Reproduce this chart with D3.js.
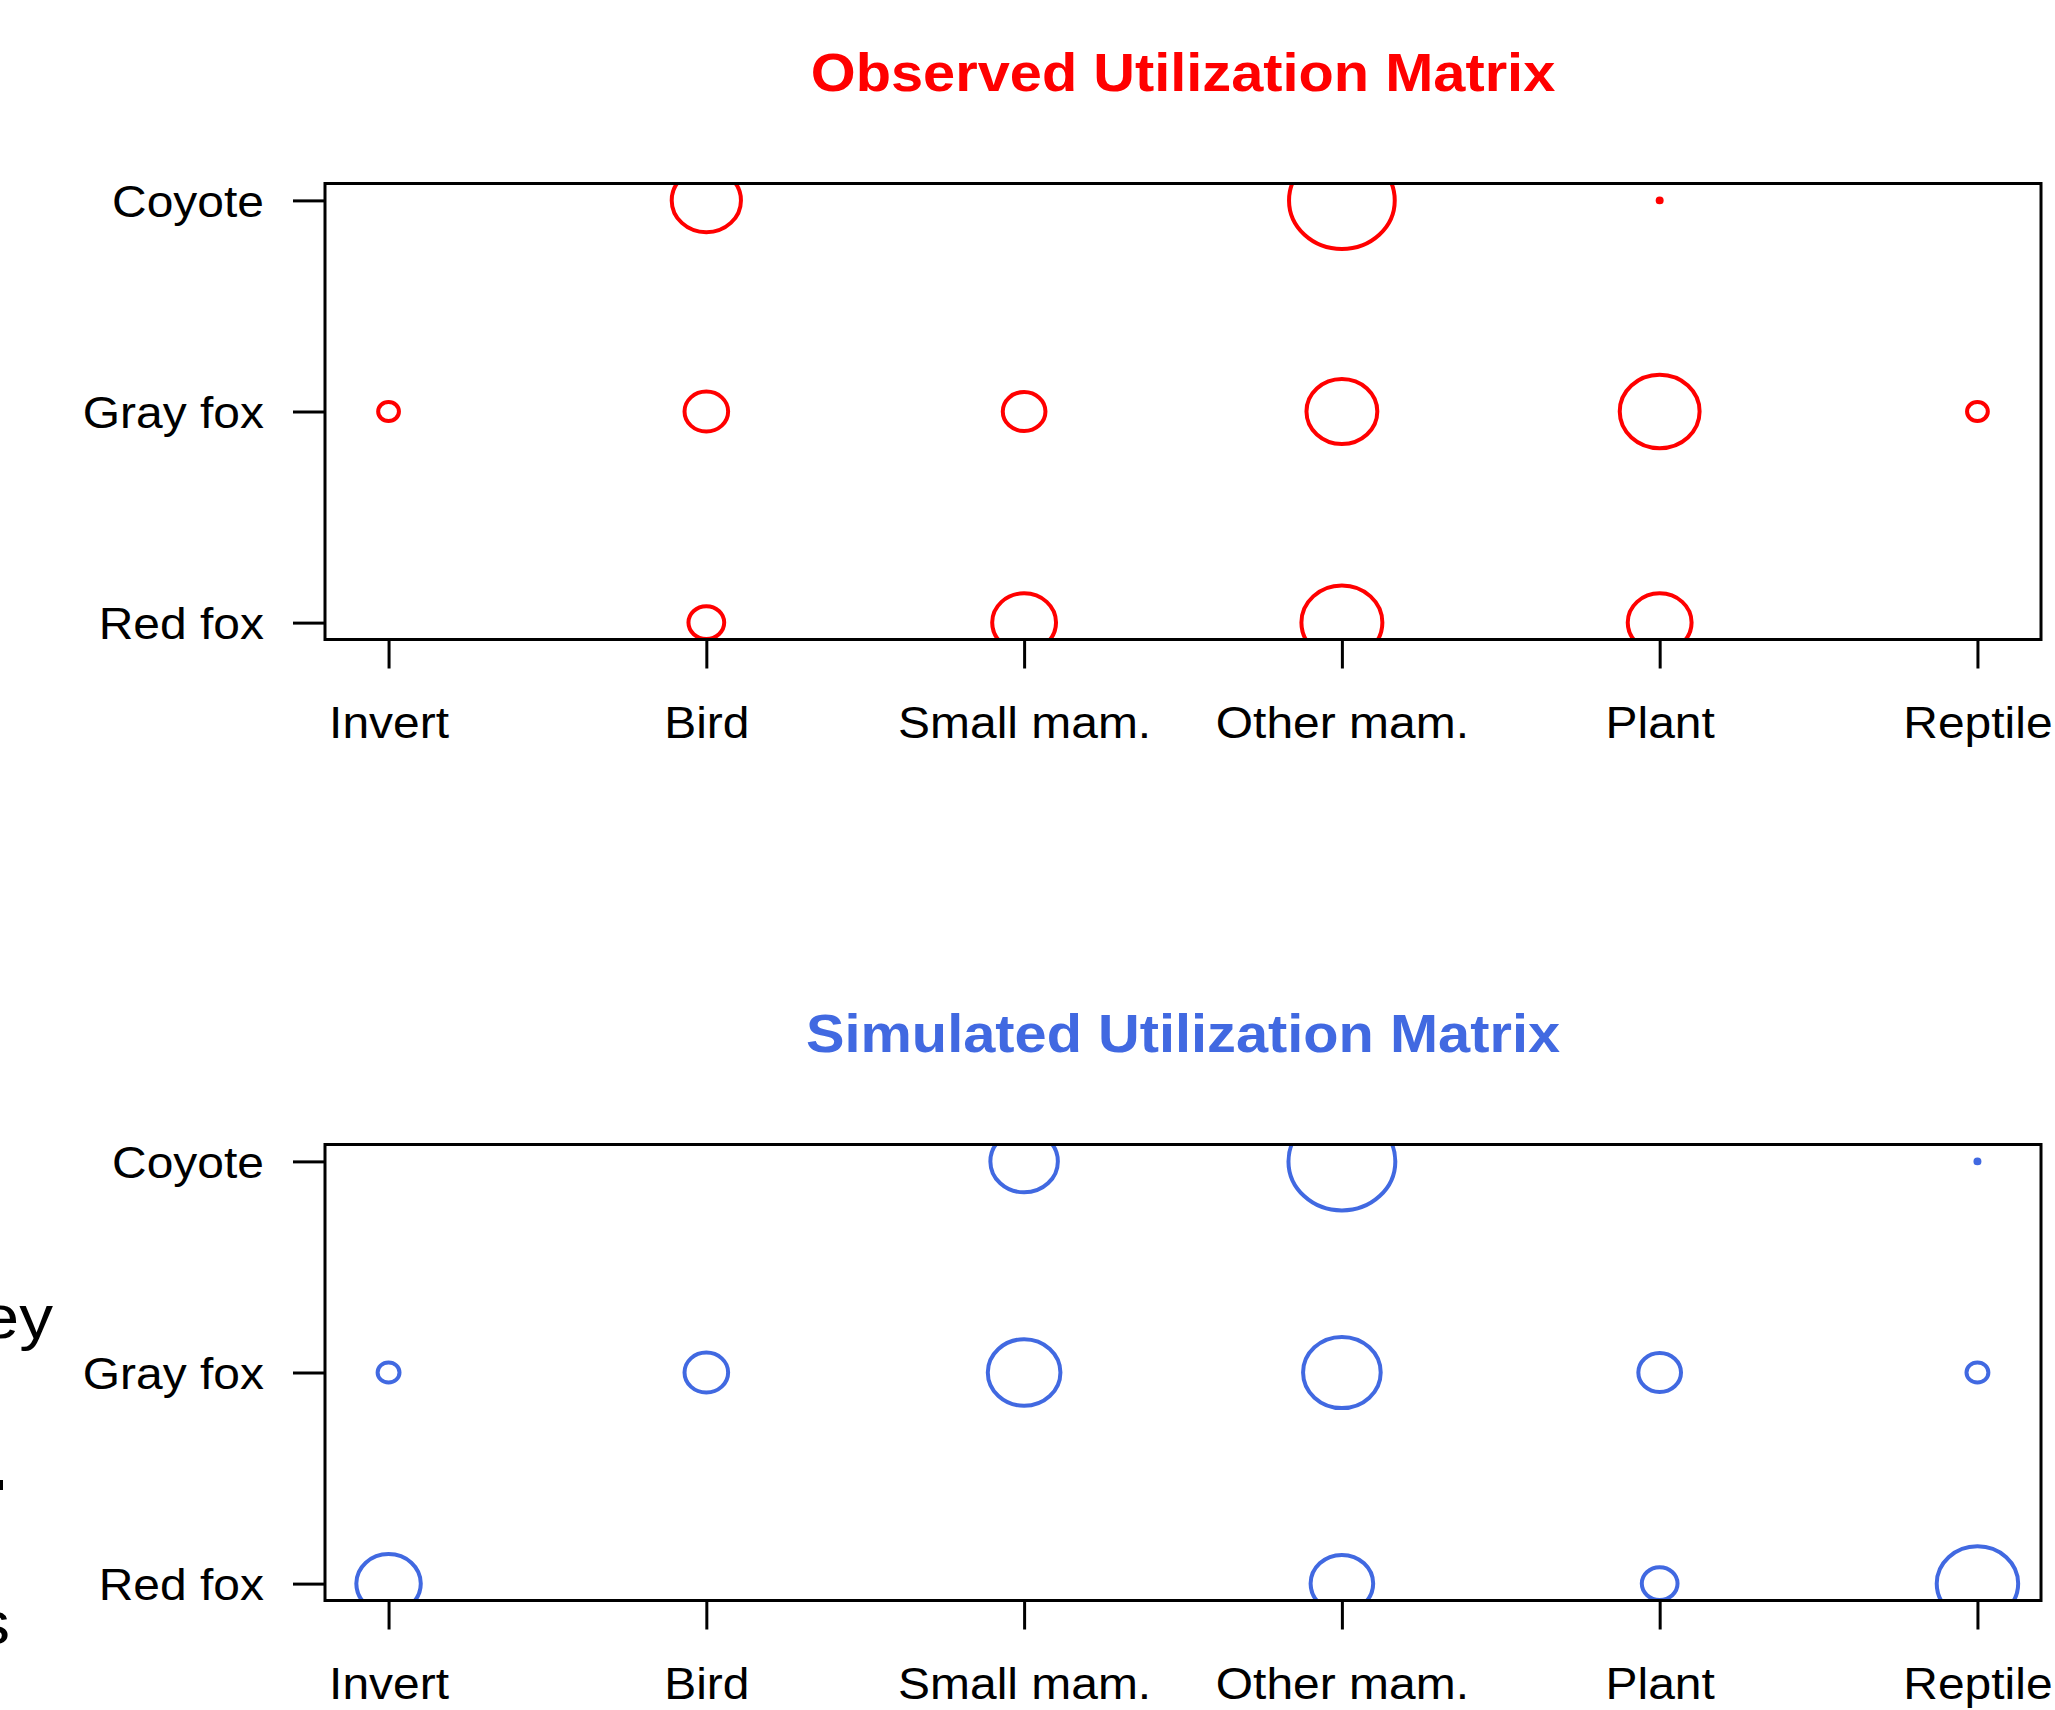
<!DOCTYPE html>
<html>
<head>
<meta charset="utf-8">
<script src="https://cdn.jsdelivr.net/npm/d3@7/dist/d3.min.js"></script>
<style>
  html, body { margin: 0; padding: 0; background: #ffffff; }
  svg { display: block; }
  text { font-family: "Liberation Sans", Arial, Helvetica, sans-serif; }
</style>
</head>
<body>
<script>
// Diet categories (columns) and predators (rows, bottom to top)
const categories = ["Invert", "Bird", "Small mam.", "Other mam.", "Plant", "Reptile"];
const predators = ["Red fox", "Gray fox", "Coyote"];

// Observed utilization proportions, one array per predator, in category order
const observedRedFox   = [0,     0.08,  0.255, 0.41,  0.255, 0];
const observedGrayFox  = [0.027, 0.119, 0.114, 0.314, 0.399, 0.027];
const observedCoyote   = [0,     0.30,  0,     0.699, 0.001, 0];

// Simulated utilization proportions
const simulatedRedFox  = [0.26,  0,     0,     0.245, 0.08,  0.415];
const simulatedGrayFox = [0.03,  0.119, 0.33,  0.377, 0.114, 0.03];
const simulatedCoyote  = [0,     0,     0.285, 0.714, 0,     0.001];

const panels = [
  { title: "Observed Utilization Matrix", color: "#ff0000",
    rows: [observedRedFox, observedGrayFox, observedCoyote] },
  { title: "Simulated Utilization Matrix", color: "#4169e1",
    rows: [simulatedRedFox, simulatedGrayFox, simulatedCoyote] }
];

const W = 2055, H = 1710;
const sx = 1.09;               // horizontal aspect of the device
const left = 325, right = 2041;
const frameTop = 183.5, frameBottom = 639.5;
const panelStep = 961;

const svg = d3.select("body").append("svg")
  .attr("width", W).attr("height", H);

const x = d3.scaleLinear().domain([0.8, 6.2]).range([left, right]);
const r = d3.scaleSqrt().domain([0, 1]).range([0, 58]);

panels.forEach((p, pi) => {
  const top = frameTop + pi * panelStep;
  const bottom = frameBottom + pi * panelStep;
  const y = d3.scaleLinear().domain([0.92, 3.08]).range([bottom, top]);
  const g = svg.append("g");
  const clipId = "clip" + pi;

  g.append("clipPath").attr("id", clipId)
    .append("rect")
    .attr("x", left).attr("y", top)
    .attr("width", right - left).attr("height", bottom - top);

  // title
  g.append("text")
    .attr("transform", `translate(${(left + right) / 2},${91 + pi * panelStep}) scale(${sx},1)`)
    .attr("text-anchor", "middle")
    .attr("font-weight", "bold")
    .attr("font-size", 53)
    .attr("fill", p.color)
    .text(p.title);

  // bubbles
  const cells = [];
  p.rows.forEach((vals, ri) => {
    vals.forEach((v, ci) => { if (v > 0) cells.push({ row: ri + 1, col: ci + 1, v }); });
  });
  g.append("g").attr("clip-path", `url(#${clipId})`)
    .selectAll("ellipse").data(cells).join("ellipse")
    .attr("cx", d => x(d.col))
    .attr("cy", d => y(d.row))
    .attr("rx", d => r(d.v) * sx)
    .attr("ry", d => r(d.v))
    .attr("fill", "none")
    .attr("stroke", p.color)
    .attr("stroke-width", 4);

  // frame
  g.append("rect")
    .attr("x", left).attr("y", top)
    .attr("width", right - left).attr("height", bottom - top)
    .attr("fill", "none").attr("stroke", "#000").attr("stroke-width", 3);

  // x axis
  const xa = g.append("g")
    .attr("transform", `translate(0,${bottom})`)
    .call(d3.axisBottom(x)
      .tickValues(d3.range(1, categories.length + 1))
      .tickFormat(i => categories[i - 1])
      .tickSizeInner(29).tickSizeOuter(0));
  xa.select(".domain").remove();
  xa.selectAll(".tick line").attr("stroke", "#000").attr("stroke-width", 3);
  xa.selectAll(".tick text")
    .attr("y", null).attr("dy", null)
    .attr("transform", `translate(0,98.5) scale(${sx},1)`)
    .attr("font-size", 44).attr("fill", "#000")
    .attr("font-family", "'Liberation Sans', Arial, sans-serif");

  // y axis
  const ya = g.append("g")
    .attr("transform", `translate(${left},0)`)
    .call(d3.axisLeft(y)
      .tickValues(d3.range(1, predators.length + 1))
      .tickFormat(i => predators[i - 1])
      .tickSizeInner(32).tickSizeOuter(0));
  ya.select(".domain").remove();
  ya.selectAll(".tick line").attr("stroke", "#000").attr("stroke-width", 3);
  ya.selectAll(".tick text")
    .attr("x", 0).attr("dy", "0.36em")
    .attr("text-anchor", "end")
    .attr("transform", `translate(-61,0) scale(${sx},1)`)
    .attr("font-size", 44).attr("fill", "#000")
    .attr("font-family", "'Liberation Sans', Arial, sans-serif");
});

// fragments of neighbouring slide text at the left edge
svg.append("text")
  .attr("transform", `translate(53,1338) scale(${sx},1)`)
  .attr("text-anchor", "end").attr("font-size", 62).attr("fill", "#000")
  .text("ey");
svg.append("rect")
  .attr("x", 0).attr("y", 1480).attr("width", 3).attr("height", 10).attr("fill", "#000");
svg.append("text")
  .attr("transform", `translate(10,1644) scale(${sx},1)`)
  .attr("text-anchor", "end").attr("font-size", 62).attr("fill", "#000")
  .text("s");
</script>
</body>
</html>
